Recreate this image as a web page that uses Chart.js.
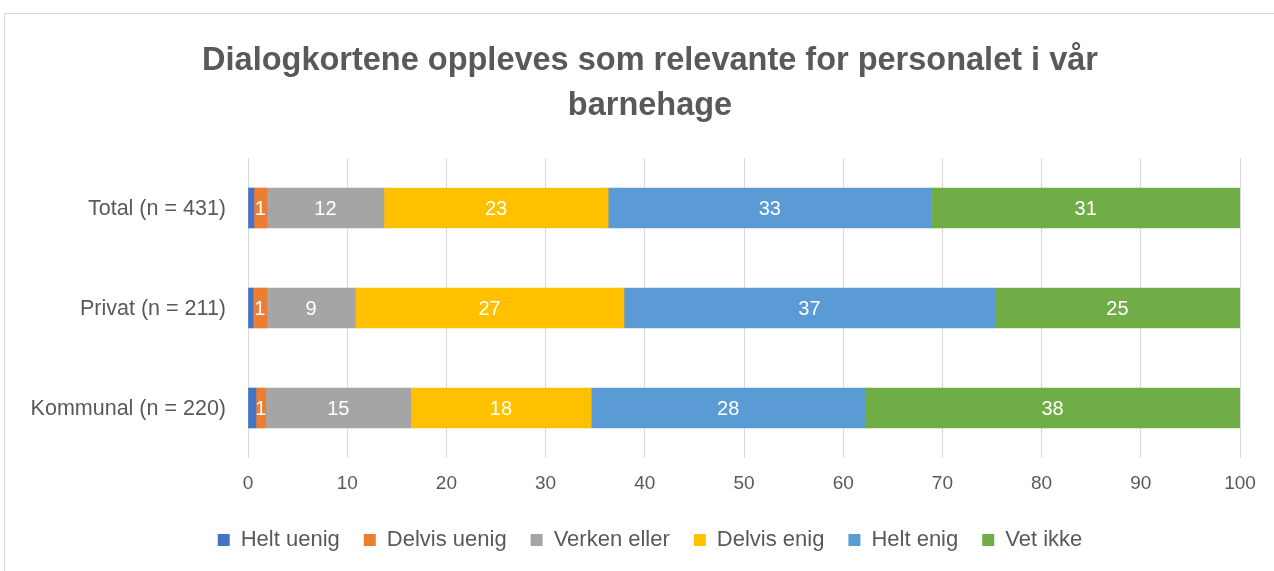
<!DOCTYPE html>
<html>
<head>
<meta charset="utf-8">
<script src="https://cdn.jsdelivr.net/npm/chart.js@4/dist/chart.umd.min.js"></script>
<style>
  html, body { margin: 0; padding: 0; background: #fff; }
  #wrap { position: relative; width: 1274px; height: 571px; overflow: hidden; }
  #frame { position: absolute; left: 4px; top: 13px; width: 1290px; height: 600px; border: 1px solid #d9d9d9; box-sizing: border-box; }
  canvas { position: absolute; left: 0; top: 0; }
</style>
</head>
<body>
<div id="wrap">
  <div id="frame"></div>
  <canvas id="chart" width="1274" height="571"></canvas>
</div>
<script>
// data
const categories = ['Total (n = 431)', 'Privat (n = 211)', 'Kommunal (n = 220)'];
const seriesNames = ['Helt uenig', 'Delvis uenig', 'Verken eller', 'Delvis enig', 'Helt enig', 'Vet ikke'];
const heltUenig   = [0.6, 0.5, 0.8];
const delvisUenig = [1.3, 1.4, 1.0];
const verkenEller = [11.8, 8.9, 14.6];
const delvisEnig  = [22.6, 27.1, 18.2];
const heltEnig    = [32.6, 37.4, 27.6];
const vetIkke     = [31.1, 24.7, 37.8];
const showValues  = [false, true, true, true, true, true];
const xTicks = [0, 10, 20, 30, 40, 50, 60, 70, 80, 90, 100];

const colors = ['#4472C4', '#ED7D31', '#A5A5A5', '#FFC000', '#5B9BD5', '#70AD47'];
const allSeries = [heltUenig, delvisUenig, verkenEller, delvisEnig, heltEnig, vetIkke];

const FONT = '"Liberation Sans", Arial, sans-serif';

// verdietiketter inne i stolpene + kategorinavn til venstre
// (y-aksen klipper tekst som går utenfor, så navnene tegnes her)
const barLabels = {
    id: 'barLabels',
    afterDatasetsDraw(chart) {
        const ctx = chart.ctx;
        ctx.save();
        ctx.font = '20px ' + FONT;
        ctx.fillStyle = '#ffffff';
        ctx.textAlign = 'center';
        ctx.textBaseline = 'middle';
        chart.data.datasets.forEach((ds, i) => {
            if (!showValues[i]) return;
            const meta = chart.getDatasetMeta(i);
            meta.data.forEach((bar, j) => {
                const cx = (bar.x + bar.base) / 2;
                ctx.fillText(String(Math.round(ds.data[j])), cx, bar.y + 1);
            });
        });

        const yScale = chart.scales.y;
        ctx.font = '21.5px ' + FONT;
        ctx.fillStyle = '#595959';
        ctx.textAlign = 'right';
        categories.forEach((c, i) => {
            ctx.fillText(c, yScale.right - 22, yScale.getPixelForValue(i) + 1);
        });
        ctx.restore();
    }
};

new Chart(document.getElementById('chart'), {
    type: 'bar',
    data: {
        labels: categories,
        datasets: allSeries.map((d, i) => ({
            label: seriesNames[i],
            data: d,
            backgroundColor: colors[i],
            borderWidth: 0,
            barThickness: 40
        }))
    },
    options: {
        indexAxis: 'y',
        responsive: false,
        animation: false,
        layout: { padding: { left: 60, right: 34, top: 0, bottom: 10 } },
        scales: {
            x: {
                stacked: true,
                min: 0,
                max: 100,
                afterBuildTicks: (scale) => { scale.ticks = xTicks.map(v => ({ value: v })); },
                afterFit: (scale) => { scale.height = 47; },
                grid: { color: '#d9d9d9', drawTicks: false, lineWidth: 1 },
                border: { display: false },
                ticks: { color: '#595959', font: { family: FONT, size: 19 }, padding: 14 }
            },
            y: {
                stacked: true,
                afterFit: (scale) => { scale.width = 188; },
                grid: { display: false, drawTicks: false },
                border: { display: false },
                ticks: { display: false }
            }
        },
        plugins: {
            title: {
                display: true,
                text: ['Dialogkortene oppleves som relevante for personalet i vår', 'barnehage'],
                color: '#595959',
                font: { family: FONT, size: 32.5, weight: 'bold', lineHeight: 1.4 },
                padding: { top: 38, bottom: 29 }
            },
            legend: {
                position: 'bottom',
                labels: {
                    color: '#595959',
                    font: { family: FONT, size: 22 },
                    boxWidth: 12,
                    boxHeight: 12,
                    padding: 24
                }
            },
            tooltip: { enabled: false }
        }
    },
    plugins: [barLabels]
});
</script>
</body>
</html>
